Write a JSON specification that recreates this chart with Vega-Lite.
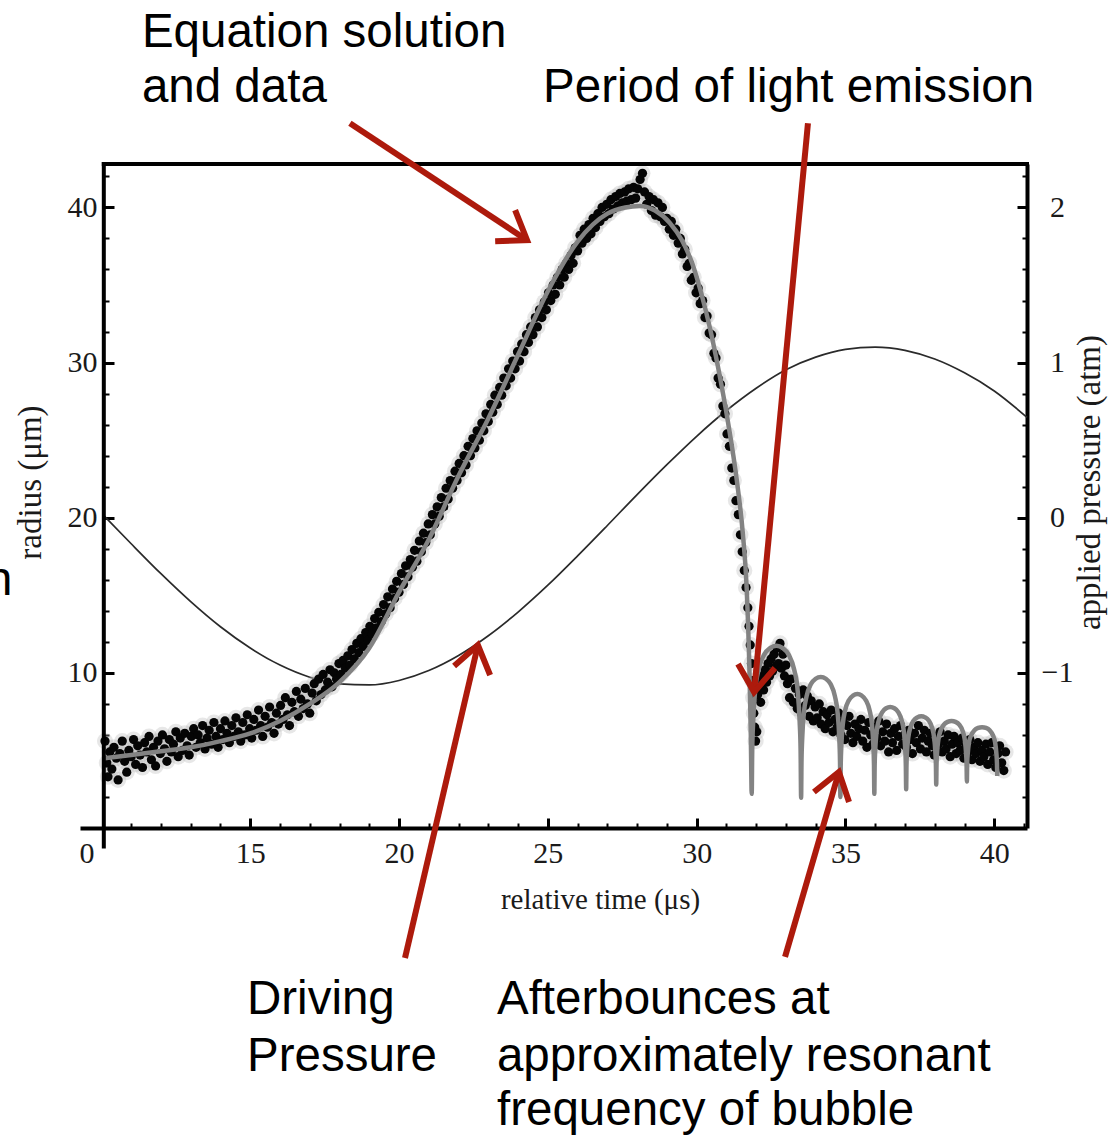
{
"$schema": "https://vega.github.io/schema/vega-lite/v6.json",
"width": 947, "height": 664,
"autosize": {"type": "none"},
"padding": {"left": 80, "top": 164, "right": 93, "bottom": 307},
"background": "white",
"config": {"view": {"stroke": null}, "axis": {"grid": false, "labelFont": "Liberation Serif", "titleFont": "Liberation Serif", "labelFontSize": 30, "titleFontSize": 33, "labelColor": "#1a1a1a", "titleColor": "#1a1a1a", "titleFontWeight": "normal", "tickColor": "black", "domainColor": "black", "labelFlush": false, "labelOverlap": false, "labelBound": false}},
"datasets": {
"pressure": [
{"t":10.1,"p":0.01},{"t":11,"p":-0.168},{"t":12,"p":-0.361},{"t":13,"p":-0.541},{"t":14,"p":-0.703},{"t":15,"p":-0.84},{"t":16,"p":-0.95},{"t":17,"p":-1.028},{"t":18,"p":-1.071},{"t":19,"p":-1.078},{"t":20,"p":-1.049},{"t":21,"p":-0.985},{"t":22,"p":-0.888},{"t":23,"p":-0.761},{"t":24,"p":-0.608},{"t":25,"p":-0.435},{"t":26,"p":-0.246},{"t":27,"p":-0.05},{"t":28,"p":0.149},{"t":29,"p":0.342},{"t":30,"p":0.525},{"t":31,"p":0.691},{"t":32,"p":0.835},{"t":33,"p":0.954},{"t":34,"p":1.035},{"t":35,"p":1.085},{"t":36,"p":1.1},{"t":37,"p":1.079},{"t":38,"p":1.023},{"t":39,"p":0.934},{"t":40,"p":0.817},{"t":41.1,"p":0.647}
],
"model": [
{"t":10.1,"r":4.5},{"t":11,"r":4.7},{"t":12,"r":4.95},{"t":13,"r":5.2},{"t":14,"r":5.6},{"t":15,"r":6.1},{"t":16,"r":6.9},{"t":17,"r":8.0},{"t":18,"r":9.4},{"t":19,"r":11.6},{"t":20,"r":15.2},{"t":21,"r":18.6},{"t":22,"r":22.7},{"t":23,"r":26.4},{"t":24,"r":30.5},{"t":25,"r":34.6},{"t":26,"r":37.8},{"t":27,"r":39.6},{"t":27.6,"r":40.0},{"t":28.1,"r":40.1},{"t":28.6,"r":39.8},{"t":29.1,"r":39.0},{"t":29.5,"r":37.9},{"t":29.85,"r":36.4},{"t":30.15,"r":34.5},{"t":30.45,"r":32.2},{"t":30.75,"r":29.4},{"t":31.05,"r":26.2},{"t":31.35,"r":22.4},{"t":31.55,"r":19.0},{"t":31.68,"r":15.5},{"t":31.77,"r":10.5},{"t":31.82,"r":6.0},{"t":31.85,"r":2.2},
{"t":31.867,"r":5.0},{"t":31.9,"r":6.9},{"t":31.966,"r":8.85},{"t":32.082,"r":10.2},{"t":32.265,"r":11.16},{"t":32.464,"r":11.6},{"t":32.68,"r":11.74},{"t":32.896,"r":11.6},{"t":33.095,"r":11.16},{"t":33.278,"r":10.2},{"t":33.394,"r":8.85},{"t":33.46,"r":6.9},{"t":33.493,"r":5.0},{"t":33.51,"r":1.95},
{"t":33.523,"r":4.3},{"t":33.55,"r":5.9},{"t":33.602,"r":7.4},{"t":33.695,"r":8.5},{"t":33.84,"r":9.28},{"t":33.998,"r":9.62},{"t":34.17,"r":9.74},{"t":34.342,"r":9.62},{"t":34.5,"r":9.28},{"t":34.645,"r":8.5},{"t":34.738,"r":7.4},{"t":34.79,"r":5.9},{"t":34.817,"r":4.3},{"t":34.83,"r":2.0},
{"t":34.841,"r":4.06},{"t":34.864,"r":5.37},{"t":34.91,"r":6.67},{"t":34.99,"r":7.59},{"t":35.115,"r":8.24},{"t":35.252,"r":8.53},{"t":35.4,"r":8.63},{"t":35.548,"r":8.53},{"t":35.685,"r":8.24},{"t":35.81,"r":7.59},{"t":35.89,"r":6.67},{"t":35.936,"r":5.37},{"t":35.959,"r":4.06},{"t":35.97,"r":2.2},
{"t":35.981,"r":4.0},{"t":36.002,"r":5.08},{"t":36.045,"r":6.17},{"t":36.12,"r":6.93},{"t":36.238,"r":7.47},{"t":36.366,"r":7.72},{"t":36.505,"r":7.8},{"t":36.644,"r":7.72},{"t":36.773,"r":7.47},{"t":36.89,"r":6.93},{"t":36.965,"r":6.17},{"t":37.008,"r":5.08},{"t":37.029,"r":4.0},{"t":37.04,"r":2.5},
{"t":37.05,"r":4.0},{"t":37.07,"r":4.93},{"t":37.111,"r":5.84},{"t":37.181,"r":6.47},{"t":37.293,"r":6.93},{"t":37.414,"r":7.13},{"t":37.545,"r":7.2},{"t":37.676,"r":7.13},{"t":37.798,"r":6.93},{"t":37.909,"r":6.47},{"t":37.979,"r":5.84},{"t":38.02,"r":4.93},{"t":38.04,"r":4.0},{"t":38.05,"r":2.8},
{"t":38.06,"r":4.1},{"t":38.081,"r":4.9},{"t":38.122,"r":5.7},{"t":38.194,"r":6.26},{"t":38.308,"r":6.66},{"t":38.431,"r":6.84},{"t":38.565,"r":6.9},{"t":38.699,"r":6.84},{"t":38.823,"r":6.66},{"t":38.936,"r":6.26},{"t":39.008,"r":5.7},{"t":39.049,"r":4.9},{"t":39.07,"r":4.1},{"t":39.08,"r":3.0},
{"t":39.09,"r":4.2},{"t":39.111,"r":4.85},{"t":39.151,"r":5.51},{"t":39.223,"r":5.97},{"t":39.335,"r":6.3},{"t":39.457,"r":6.45},{"t":39.59,"r":6.5},{"t":39.723,"r":6.45},{"t":39.845,"r":6.3},{"t":39.957,"r":5.97},{"t":40.029,"r":5.51},{"t":40.069,"r":4.85},{"t":40.09,"r":4.2},{"t":40.1,"r":3.35}
],
"dots": [
{"t":10.12,"r":5.6},{"t":10.18,"r":4.2},{"t":10.22,"r":3.3},{"t":10.28,"r":4.9},{"t":10.35,"r":3.8},{"t":10.42,"r":5.2},{"t":10.5,"r":4.5},{"t":10.56,"r":3.1},{"t":10.62,"r":4.8},{"t":10.7,"r":5.6},{"t":10.78,"r":4.3},{"t":10.85,"r":3.6},{"t":10.92,"r":5.0},{"t":11.0,"r":4.6},{"t":11.08,"r":5.7},{"t":11.15,"r":4.1},{"t":11.22,"r":5.3},{"t":11.3,"r":4.7},{"t":11.38,"r":3.9},{"t":11.45,"r":5.5},{"t":11.52,"r":4.9},{"t":11.6,"r":5.9},{"t":11.68,"r":4.4},{"t":11.75,"r":5.2},{"t":11.82,"r":4.0},{"t":11.9,"r":5.6},{"t":11.98,"r":4.8},{"t":12.05,"r":6.0},{"t":12.12,"r":5.1},{"t":12.2,"r":4.3},{"t":12.28,"r":5.7},{"t":12.35,"r":4.9},{"t":12.42,"r":5.4},{"t":12.5,"r":6.2},{"t":12.58,"r":4.6},{"t":12.65,"r":5.8},{"t":12.72,"r":5.0},{"t":12.8,"r":6.1},{"t":12.88,"r":5.3},{"t":12.95,"r":4.7},
{"t":13.02,"r":5.9},{"t":13.1,"r":6.4},{"t":13.18,"r":5.2},{"t":13.25,"r":6.0},{"t":13.32,"r":5.5},{"t":13.4,"r":6.6},{"t":13.48,"r":5.1},{"t":13.55,"r":5.8},{"t":13.62,"r":6.3},{"t":13.7,"r":5.4},{"t":13.78,"r":6.8},{"t":13.85,"r":5.9},{"t":13.92,"r":5.2},{"t":14.0,"r":6.4},{"t":14.08,"r":5.7},{"t":14.15,"r":6.9},{"t":14.22,"r":6.1},{"t":14.3,"r":5.5},{"t":14.38,"r":6.6},{"t":14.45,"r":5.9},{"t":14.52,"r":7.1},{"t":14.6,"r":6.2},{"t":14.68,"r":5.6},{"t":14.75,"r":6.8},{"t":14.82,"r":6.0},{"t":14.9,"r":7.3},{"t":14.98,"r":6.4},{"t":15.05,"r":5.8},{"t":15.12,"r":7.0},{"t":15.2,"r":6.3},{"t":15.28,"r":7.6},{"t":15.35,"r":6.6},{"t":15.42,"r":5.9},{"t":15.5,"r":7.2},{"t":15.58,"r":6.5},{"t":15.65,"r":7.8},{"t":15.72,"r":6.8},{"t":15.8,"r":6.1},{"t":15.88,"r":7.4},{"t":15.95,"r":6.7},
{"t":16.02,"r":7.9},{"t":16.1,"r":7.0},{"t":16.18,"r":8.4},{"t":16.25,"r":7.3},{"t":16.32,"r":6.6},{"t":16.4,"r":8.1},{"t":16.48,"r":7.5},{"t":16.55,"r":8.8},{"t":16.62,"r":7.2},{"t":16.7,"r":8.3},{"t":16.78,"r":7.7},{"t":16.85,"r":9.0},{"t":16.92,"r":8.0},{"t":17.0,"r":7.4},{"t":17.08,"r":8.7},{"t":17.15,"r":9.3},{"t":17.22,"r":8.2},{"t":17.3,"r":9.6},{"t":17.38,"r":8.6},{"t":17.45,"r":9.9},{"t":17.52,"r":8.9},{"t":17.6,"r":9.4},{"t":17.68,"r":10.2},{"t":17.75,"r":9.1},{"t":17.82,"r":10.0},{"t":17.9,"r":9.6},{"t":17.98,"r":10.6},{"t":18.05,"r":9.9},{"t":18.12,"r":10.8},{"t":18.2,"r":10.3},{"t":18.28,"r":11.1},{"t":18.35,"r":10.5},{"t":18.42,"r":11.5},{"t":18.5,"r":10.9},{"t":18.58,"r":11.9},{"t":18.65,"r":11.3},{"t":18.72,"r":12.2},{"t":18.8,"r":11.7},{"t":18.88,"r":12.6},{"t":18.95,"r":12.1},
{"t":19.02,"r":13.0},{"t":19.1,"r":12.5},{"t":19.18,"r":13.5},{"t":19.25,"r":12.9},{"t":19.32,"r":13.9},{"t":19.4,"r":13.3},{"t":19.48,"r":14.4},{"t":19.55,"r":13.8},{"t":19.62,"r":14.9},{"t":19.7,"r":14.2},{"t":19.78,"r":15.4},{"t":19.85,"r":14.8},{"t":19.92,"r":15.9},{"t":20.0,"r":15.2},{"t":20.08,"r":16.4},{"t":20.15,"r":15.7},{"t":20.22,"r":16.9},{"t":20.3,"r":16.2},{"t":20.38,"r":17.3},{"t":20.45,"r":16.8},{"t":20.52,"r":17.9},{"t":20.6,"r":17.2},{"t":20.68,"r":18.5},{"t":20.75,"r":17.8},{"t":20.82,"r":19.0},{"t":20.9,"r":18.4},{"t":20.98,"r":19.6},{"t":21.05,"r":18.9},{"t":21.12,"r":20.2},{"t":21.2,"r":19.6},{"t":21.28,"r":20.7},{"t":21.35,"r":20.1},{"t":21.42,"r":21.3},{"t":21.5,"r":20.7},{"t":21.58,"r":21.9},{"t":21.65,"r":21.2},{"t":21.72,"r":22.4},{"t":21.8,"r":21.9},{"t":21.88,"r":23.0},{"t":21.95,"r":22.4},{"t":22.02,"r":23.5},{"t":22.1,"r":22.9},{"t":22.18,"r":24.0},{"t":22.25,"r":23.4},{"t":22.32,"r":24.6},{"t":22.4,"r":24.0},{"t":22.48,"r":25.1},{"t":22.55,"r":24.5},{"t":22.62,"r":25.6},{"t":22.7,"r":25.0},{"t":22.78,"r":26.1},{"t":22.85,"r":25.6},{"t":22.92,"r":26.7},
{"t":23.0,"r":26.2},{"t":23.08,"r":27.3},{"t":23.15,"r":26.8},{"t":23.22,"r":27.9},{"t":23.3,"r":27.3},{"t":23.38,"r":28.4},{"t":23.45,"r":27.9},{"t":23.52,"r":29.0},{"t":23.6,"r":28.5},{"t":23.68,"r":29.6},{"t":23.75,"r":29.0},{"t":23.82,"r":30.1},{"t":23.9,"r":29.6},{"t":23.98,"r":30.7},{"t":24.05,"r":30.1},{"t":24.12,"r":31.2},{"t":24.2,"r":30.7},{"t":24.28,"r":31.8},{"t":24.35,"r":31.3},{"t":24.42,"r":32.3},{"t":24.5,"r":31.8},{"t":24.58,"r":32.9},{"t":24.65,"r":32.3},{"t":24.72,"r":33.4},{"t":24.8,"r":32.9},{"t":24.88,"r":33.9},{"t":24.95,"r":33.4},{"t":25.02,"r":34.5},{"t":25.1,"r":34.0},{"t":25.18,"r":35.0},{"t":25.25,"r":34.4},{"t":25.32,"r":35.5},{"t":25.4,"r":35.0},{"t":25.48,"r":36.0},{"t":25.55,"r":35.5},{"t":25.62,"r":36.4},{"t":25.7,"r":36.0},{"t":25.78,"r":36.9},{"t":25.85,"r":36.4},{"t":25.92,"r":37.4},
{"t":26.0,"r":37.2},{"t":26.08,"r":38.2},{"t":26.15,"r":37.7},{"t":26.22,"r":38.6},{"t":26.3,"r":38.0},{"t":26.38,"r":38.9},{"t":26.45,"r":38.3},{"t":26.52,"r":39.3},{"t":26.6,"r":38.7},{"t":26.68,"r":39.6},{"t":26.75,"r":39.1},{"t":26.82,"r":40.0},{"t":26.9,"r":39.4},{"t":26.98,"r":40.2},{"t":27.05,"r":39.6},{"t":27.12,"r":40.5},{"t":27.2,"r":39.9},{"t":27.28,"r":40.7},{"t":27.35,"r":40.1},{"t":27.42,"r":40.9},{"t":27.5,"r":40.3},{"t":27.58,"r":41.0},{"t":27.65,"r":40.4},{"t":27.72,"r":41.2},{"t":27.8,"r":40.5},{"t":27.88,"r":41.3},{"t":27.95,"r":40.6},{"t":28.02,"r":41.2},{"t":28.1,"r":41.8},{"t":28.18,"r":42.2},{"t":28.25,"r":41.0},{"t":28.32,"r":40.2},{"t":28.4,"r":40.7},{"t":28.48,"r":39.8},{"t":28.55,"r":40.5},{"t":28.62,"r":39.5},{"t":28.7,"r":40.3},{"t":28.78,"r":39.4},{"t":28.85,"r":40.0},{"t":28.92,"r":39.1},
{"t":29.0,"r":39.3},{"t":29.08,"r":38.6},{"t":29.15,"r":39.1},{"t":29.22,"r":38.2},{"t":29.3,"r":38.6},{"t":29.38,"r":37.7},{"t":29.45,"r":38.0},{"t":29.52,"r":37.0},{"t":29.6,"r":37.3},{"t":29.68,"r":36.2},{"t":29.75,"r":36.4},{"t":29.82,"r":35.3},{"t":29.9,"r":35.5},{"t":29.98,"r":34.5},{"t":30.05,"r":34.8},{"t":30.12,"r":33.8},{"t":30.2,"r":34.0},{"t":30.28,"r":32.9},{"t":30.35,"r":33.0},{"t":30.42,"r":31.9},{"t":30.5,"r":31.8},{"t":30.58,"r":30.6},{"t":30.65,"r":30.3},{"t":30.72,"r":29.0},{"t":30.8,"r":28.6},{"t":30.88,"r":27.2},{"t":30.95,"r":26.7},{"t":31.02,"r":25.4},{"t":31.1,"r":24.6},{"t":31.18,"r":23.2},{"t":31.25,"r":22.4},{"t":31.32,"r":21.1},{"t":31.4,"r":20.2},{"t":31.47,"r":18.9},{"t":31.53,"r":17.8},{"t":31.6,"r":16.6},{"t":31.66,"r":15.5},{"t":31.72,"r":14.2},{"t":31.76,"r":13.0},{"t":31.8,"r":11.8},{"t":31.84,"r":10.6},{"t":31.87,"r":9.5},{"t":31.9,"r":8.4},{"t":31.92,"r":7.4},{"t":31.95,"r":6.5},{"t":31.98,"r":5.6},{"t":32.02,"r":6.2},
{"t":32.05,"r":8.6},{"t":32.1,"r":9.3},{"t":32.15,"r":8.1},{"t":32.2,"r":9.8},{"t":32.25,"r":8.9},{"t":32.3,"r":10.2},{"t":32.35,"r":9.4},{"t":32.4,"r":10.6},{"t":32.45,"r":9.8},{"t":32.5,"r":10.9},{"t":32.55,"r":10.1},{"t":32.6,"r":11.2},{"t":32.65,"r":10.4},{"t":32.7,"r":11.6},{"t":32.75,"r":10.6},{"t":32.8,"r":11.9},{"t":32.85,"r":10.3},{"t":32.9,"r":11.2},{"t":32.95,"r":9.8},{"t":33.0,"r":10.5},
{"t":33.05,"r":9.3},{"t":33.12,"r":8.4},{"t":33.18,"r":9.6},{"t":33.25,"r":8.1},{"t":33.32,"r":9.0},{"t":33.38,"r":7.7},{"t":33.45,"r":8.6},{"t":33.52,"r":7.4},{"t":33.58,"r":8.9},{"t":33.65,"r":7.9},{"t":33.72,"r":8.5},{"t":33.78,"r":7.2},{"t":33.85,"r":8.2},{"t":33.92,"r":6.9},{"t":33.98,"r":7.8},{"t":34.05,"r":7.1},{"t":34.12,"r":8.0},{"t":34.18,"r":6.7},{"t":34.25,"r":7.5},{"t":34.32,"r":6.4},{"t":34.38,"r":7.3},{"t":34.45,"r":6.8},{"t":34.52,"r":7.6},{"t":34.58,"r":6.2},{"t":34.65,"r":7.0},{"t":34.72,"r":6.5},{"t":34.78,"r":7.4},
{"t":34.85,"r":6.0},{"t":34.92,"r":6.9},{"t":34.98,"r":5.7},{"t":35.05,"r":6.6},{"t":35.12,"r":7.2},{"t":35.18,"r":6.1},{"t":35.25,"r":5.5},{"t":35.32,"r":6.7},{"t":35.38,"r":5.9},{"t":35.45,"r":6.4},{"t":35.52,"r":7.0},{"t":35.58,"r":5.6},{"t":35.65,"r":6.3},{"t":35.72,"r":5.2},{"t":35.78,"r":6.8},{"t":35.85,"r":6.0},{"t":35.92,"r":5.4},{"t":35.98,"r":6.5},{"t":36.05,"r":5.8},{"t":36.12,"r":6.9},{"t":36.18,"r":5.3},{"t":36.25,"r":6.2},{"t":36.32,"r":5.6},{"t":36.38,"r":6.7},{"t":36.45,"r":4.9},{"t":36.52,"r":6.1},{"t":36.58,"r":5.5},{"t":36.65,"r":6.4},{"t":36.72,"r":5.0},{"t":36.78,"r":5.9},{"t":36.85,"r":6.6},{"t":36.92,"r":5.4},{"t":36.98,"r":6.0},{"t":37.05,"r":5.2},{"t":37.12,"r":6.3},{"t":37.18,"r":5.7},{"t":37.25,"r":4.8},{"t":37.32,"r":6.1},{"t":37.38,"r":5.5},{"t":37.45,"r":6.6},{"t":37.52,"r":5.1},{"t":37.58,"r":5.8},{"t":37.65,"r":6.3},{"t":37.72,"r":4.9},{"t":37.78,"r":5.6},{"t":37.85,"r":6.1},{"t":37.92,"r":5.3},{"t":37.98,"r":4.7},{"t":38.05,"r":5.9},{"t":38.12,"r":5.4},{"t":38.18,"r":6.2},{"t":38.25,"r":4.9},{"t":38.32,"r":5.6},{"t":38.38,"r":5.1},{"t":38.45,"r":6.0},{"t":38.52,"r":4.6},{"t":38.58,"r":5.4},{"t":38.65,"r":5.9},{"t":38.72,"r":4.8},{"t":38.78,"r":5.5},{"t":38.85,"r":5.0},{"t":38.92,"r":5.8},{"t":38.98,"r":4.5},{"t":39.05,"r":5.3},{"t":39.12,"r":4.9},{"t":39.18,"r":5.7},{"t":39.25,"r":4.4},{"t":39.32,"r":5.2},{"t":39.38,"r":4.8},{"t":39.45,"r":5.5},{"t":39.52,"r":4.3},{"t":39.58,"r":5.0},{"t":39.65,"r":4.6},{"t":39.72,"r":5.4},{"t":39.78,"r":4.1},{"t":39.85,"r":4.9},{"t":39.92,"r":5.5},{"t":39.98,"r":4.4},{"t":40.05,"r":3.9},{"t":40.12,"r":4.8},{"t":40.18,"r":5.3},{"t":40.25,"r":4.2},{"t":40.32,"r":3.7},{"t":40.38,"r":4.9}
],
"frame": [
{"x":10.08,"y":-1.2,"x2":10.08,"y2":42.8},
{"x":10.08,"y":42.8,"x2":41.1,"y2":42.8}
],
"notes": [
{"x":11.36,"y":50.32,"text":"Equation solution"},
{"x":11.36,"y":46.78,"text":"and data"},
{"x":24.84,"y":46.78,"text":"Period of light emission"},
{"x":14.89,"y":-11.98,"text":"Driving"},
{"x":14.89,"y":-15.66,"text":"Pressure"},
{"x":23.29,"y":-11.98,"text":"Afterbounces at"},
{"x":23.29,"y":-15.66,"text":"approximately resonant"},
{"x":23.29,"y":-19.14,"text":"frequency of bubble"},
{"x":6.12,"y":15.01,"text":"n"}
],
"arrows": [
{"id":"a1s","k":0,"x":18.35,"y":45.43},{"id":"a1s","k":1,"x":24.30,"y":37.89},
{"id":"a1h","k":0,"x":23.23,"y":37.82},{"id":"a1h","k":1,"x":24.30,"y":37.89},{"id":"a1h","k":2,"x":23.90,"y":39.82},
{"id":"a2s","k":0,"x":33.74,"y":45.43},{"id":"a2s","k":1,"x":31.93,"y":8.76},
{"id":"a2h","k":0,"x":31.39,"y":10.57},{"id":"a2h","k":1,"x":31.93,"y":8.76},{"id":"a2h","k":2,"x":32.63,"y":10.31},
{"id":"a3s","k":0,"x":20.20,"y":-8.38},{"id":"a3s","k":1,"x":22.65,"y":11.79},
{"id":"a3h","k":0,"x":21.85,"y":10.44},{"id":"a3h","k":1,"x":22.65,"y":11.79},{"id":"a3h","k":2,"x":23.06,"y":9.86},
{"id":"a4s","k":0,"x":32.97,"y":-8.31},{"id":"a4s","k":1,"x":34.78,"y":3.61},
{"id":"a4h","k":0,"x":33.94,"y":2.32},{"id":"a4h","k":1,"x":34.78,"y":3.61},{"id":"a4h","k":2,"x":35.12,"y":1.68}
]
},
"layer": [
{
"data": {"name": "pressure"},
"mark": {"type": "line", "color": "#2a2a2a", "strokeWidth": 1.7, "interpolate": "monotone"},
"encoding": {
"x": {"field": "t", "type": "quantitative", "scale": {"domain": [9.28, 41.1], "nice": false, "zero": false},
"axis": {"orient": "bottom", "values": [9.5,15,20,25,30,35,40],
"labelExpr": "datum.value == 9.5 ? '0' : datum.label",
"tickSize": -10, "tickWidth": 3,
"tickColor": {"condition": {"test": "datum.value == 9.5", "value": "transparent"}, "value": "black"},
"labelPadding": 20, "labelBaseline": "top", "domainWidth": 4,
"title": "relative time (μs)", "titleFontSize": 29, "titleX": 520, "titleY": 80, "titleBaseline": "alphabetic", "titleAlign": "center", "titleAnchor": null}},
"y": {"field": "p", "type": "quantitative", "scale": {"domain": [-2, 2.28], "nice": false, "zero": false},
"axis": {"orient": "right", "values": [-1, 0, 1, 2], "format": ".0f",
"tickSize": -10, "tickWidth": 3,
"labelAlign": "center", "labelBaseline": "middle", "labelPadding": 40, "domainWidth": 4,
"title": "applied pressure (atm)", "titleAngle": -90, "titleX": 72, "titleY": 318, "titleBaseline": "alphabetic", "titleAlign": "center", "titleAnchor": null}}
}
},
{
"data": {"name": "pressure"},
"mark": {"type": "line", "strokeOpacity": 0, "interpolate": "monotone"},
"encoding": {
"x": {"field": "t", "type": "quantitative", "scale": {"domain": [9.28, 41.1], "nice": false, "zero": false},
"axis": {"orient": "bottom", "values": [11,12,13,14,16,17,18,19,21,22,23,24,26,27,28,29,31,32,33,34,36,37,38,39,41],
"labels": false, "tickSize": -5, "tickWidth": 2, "domain": false, "title": null}},
"y": {"field": "p", "type": "quantitative", "scale": {"domain": [-2, 2.28], "nice": false, "zero": false},
"axis": {"orient": "right", "values": [-1.8,-1.6,-1.4,-1.2,-0.8,-0.6,-0.4,-0.2,0.2,0.4,0.6,0.8,1.2,1.4,1.6,1.8,2.2],
"labels": false, "tickSize": -5, "tickWidth": 2, "domain": false, "title": null}}
}
},
{
"data": {"name": "dots"},
"mark": {"type": "circle", "size": 260, "color": "#b0b0b0", "opacity": 0.3},
"encoding": {
"x": {"field": "t", "type": "quantitative", "scale": {"domain": [9.28, 41.1], "nice": false, "zero": false}, "axis": null},
"y": {"field": "r", "type": "quantitative", "scale": {"domain": [0, 42.8], "nice": false, "zero": false},
"axis": {"orient": "left", "offset": -24, "values": [10, 20, 30, 40],
"tickSize": -10, "tickWidth": 3,
"labelPadding": 17, "labelBaseline": "middle", "domain": false,
"title": "radius (μm)", "titleAngle": -90, "titleX": -64, "titleY": 318, "titleBaseline": "alphabetic", "titleAlign": "center", "titleAnchor": null}}
}
},
{
"data": {"name": "dots"},
"mark": {"type": "circle", "size": 85, "color": "#050505", "opacity": 1},
"encoding": {
"x": {"field": "t", "type": "quantitative", "scale": {"domain": [9.28, 41.1], "nice": false, "zero": false}, "axis": null},
"y": {"field": "r", "type": "quantitative", "scale": {"domain": [0, 42.8], "nice": false, "zero": false},
"axis": {"orient": "left", "offset": -24, "values": [2,4,6,8,12,14,16,18,22,24,26,28,32,34,36,38,42],
"labels": false, "tickSize": -5, "tickWidth": 2, "domain": false, "title": null}}
}
},
{
"data": {"name": "model"},
"mark": {"type": "line", "color": "#838383", "strokeWidth": 4.5, "interpolate": "monotone"},
"encoding": {
"x": {"field": "t", "type": "quantitative", "scale": {"domain": [9.28, 41.1], "nice": false, "zero": false}, "axis": null},
"y": {"field": "r", "type": "quantitative", "scale": {"domain": [0, 42.8], "nice": false, "zero": false}, "axis": null}
}
},
{
"data": {"name": "frame"},
"mark": {"type": "rule", "color": "black", "strokeWidth": 4, "strokeCap": "square"},
"encoding": {
"x": {"field": "x", "type": "quantitative", "scale": {"domain": [9.28, 41.1], "nice": false, "zero": false}, "axis": null},
"x2": {"field": "x2"},
"y": {"field": "y", "type": "quantitative", "scale": {"domain": [0, 42.8], "nice": false, "zero": false}, "axis": null},
"y2": {"field": "y2"}
}
},
{
"data": {"name": "notes"},
"mark": {"type": "text", "font": "Liberation Sans", "fontSize": 47.5, "color": "black", "align": "left", "baseline": "alphabetic"},
"encoding": {
"x": {"field": "x", "type": "quantitative", "scale": {"domain": [9.28, 41.1], "nice": false, "zero": false}, "axis": null},
"y": {"field": "y", "type": "quantitative", "scale": {"domain": [0, 42.8], "nice": false, "zero": false}, "axis": null},
"text": {"field": "text"}
}
},
{
"data": {"name": "arrows"},
"mark": {"type": "line", "color": "#ad1a0c", "strokeWidth": 6, "strokeJoin": "miter", "strokeCap": "butt"},
"encoding": {
"x": {"field": "x", "type": "quantitative", "scale": {"domain": [9.28, 41.1], "nice": false, "zero": false}, "axis": null},
"y": {"field": "y", "type": "quantitative", "scale": {"domain": [0, 42.8], "nice": false, "zero": false}, "axis": null},
"detail": {"field": "id"},
"order": {"field": "k", "type": "quantitative"}
}
}
],
"resolve": {"scale": {"y": "independent"}, "axis": {"x": "independent", "y": "independent"}}
}
